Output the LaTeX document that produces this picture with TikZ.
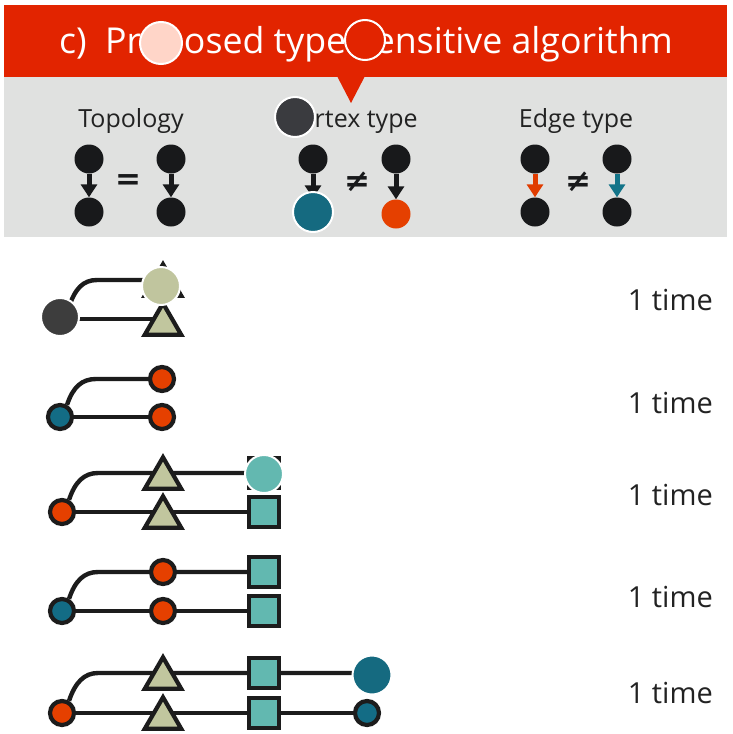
\documentclass[tikz,border=0pt]{standalone}
\usepackage{fontspec}
\setmainfont{Open Sans}
\newfontfamily\symfont{DejaVu Sans}
\usetikzlibrary{arrows.meta}
\pgfdeclarelayer{bgwhite}
\pgfdeclarelayer{bg}
\pgfsetlayers{bgwhite,bg,main}
\definecolor{barred}{HTML}{E22400}
\definecolor{panelgrey}{HTML}{E0E1E0}
\definecolor{nodeblk}{HTML}{18191B}
\definecolor{strokedk}{HTML}{1C1C1C}
\definecolor{orng}{HTML}{E54000}
\definecolor{tealdk}{HTML}{136C85}
\definecolor{tealsq}{HTML}{62B8B0}
\definecolor{beige}{HTML}{C1C69E}
\definecolor{txtdk}{HTML}{222222}
\definecolor{arrorng}{HTML}{E03C00}
\definecolor{arrteal}{HTML}{137489}
\definecolor{mpeach}{HTML}{FFD5C8}
\definecolor{mdark}{HTML}{3A3B3F}
\definecolor{mdarkb}{HTML}{3D3D3D}
\definecolor{mteal}{HTML}{156A80}
\definecolor{mbeige}{HTML}{C0C59E}
\definecolor{mtealsq}{HTML}{63B8B0}
\begin{document}
\begin{tikzpicture}[x=1pt,y=-1pt,
  blk/.style={circle,fill=nodeblk,inner sep=0pt,minimum size=29pt},
  parr/.style={line width=5pt,draw=#1,-{Triangle[width=16pt,length=13pt]}},
  parr/.default=nodeblk,
  rowedge/.style={line width=4.4pt,draw=strokedk},
  rc/.style={circle,draw=strokedk,line width=4.2pt,inner sep=0pt,minimum size=24pt,fill=#1},
  sqn/.style={rectangle,draw=strokedk,line width=4.2pt,fill=tealsq,inner sep=0pt,minimum size=30pt},
  trin/.style={rectangle,inner sep=0pt,minimum width=36pt,minimum height=31pt},
  trishape/.style={draw=strokedk,line width=4.2pt,fill=beige,line join=miter},
  maskc/.style={circle,draw=white,line width=2pt,inner sep=0pt,fill=#1},
  lbl/.style={text=txtdk,font=\fontsize{25}{30}\selectfont,anchor=base,inner sep=0pt},
  cnt/.style={text=txtdk,font=\fontsize{29}{34}\selectfont,anchor=base east,inner sep=0pt},
  symb/.style={text=nodeblk,font=\symfont\bfseries\fontsize{31}{34}\selectfont,inner sep=0pt}
]
\useasboundingbox (0,0) rectangle (732,734);
\begin{pgfonlayer}{bgwhite}
\fill[white] (0,0) rectangle (732,734);
\end{pgfonlayer}

% header bar and panel
\fill[barred] (4,5) rectangle (727,77);
\fill[panelgrey] (4,77) rectangle (727,237);
\fill[barred] (337,76) -- (365,76) -- (351,103) -- cycle;

\node[text=white,font=\fontsize{35.7}{42}\selectfont,anchor=base,inner sep=0pt] (title) at (366,53) {c)\ \ Proposed type-sensitive algorithm};

\node[lbl] (topo) at (131,127) {Topology};
\node[lbl] (vert) at (352,127) {Vertex type};
\node[lbl] (edge) at (576,127) {Edge type};

% topology
\node[blk] (t1a) at (89,159) {};
\node[blk] (t1b) at (89,212) {};
\node[blk] (t2a) at (171,159) {};
\node[blk] (t2b) at (171,212) {};
\draw[parr] (t1a) -- (t1b);
\draw[parr] (t2a) -- (t2b);
\node[symb] (eq1) at (128,182) {=};

% vertex type
\node[blk] (v1a) at (313,159) {};
\node[blk,fill=tealdk] (v1b) at (313,213) {};
\node[blk] (v2a) at (396,159) {};
\node[blk,fill=orng] (v2b) at (396,214) {};
\draw[parr] (v1a) -- (v1b);
\draw[parr] (v2a) -- (v2b);
\node[symb] (ne1) at (357,182) {≠};

% edge type
\node[blk] (e1a) at (535,159) {};
\node[blk] (e1b) at (535,212) {};
\node[blk] (e2a) at (617,159) {};
\node[blk] (e2b) at (617,212) {};
\draw[parr=arrorng] (e1a) -- (e1b);
\draw[parr=arrteal] (e2a) -- (e2b);
\node[symb] (ne2) at (578,182) {≠};

% row 1
\node[rc=orng] (L1) at (62,319) {};
\node[trin] (A1) at (163,280) {};
\node[trin] (A2) at (163,319) {};
\coordinate (K1) at (97,280);
% row 2
\node[rc=tealdk] (L2) at (60,417) {};
\node[rc=orng] (B1) at (162,379) {};
\node[rc=orng] (B2) at (162,417) {};
\coordinate (K2) at (96,379);
% row 3
\node[rc=orng] (L3) at (62,512) {};
\node[trin] (C1) at (163,473) {};
\node[trin] (C2) at (163,512) {};
\node[sqn] (D1) at (264,473) {};
\node[sqn] (D2) at (264,512) {};
\coordinate (K3) at (98,473);
% row 4
\node[rc=tealdk] (L4) at (62,611) {};
\node[rc=orng] (E1) at (163,572) {};
\node[rc=orng] (E2) at (163,611) {};
\node[sqn] (F1) at (264,572) {};
\node[sqn] (F2) at (264,611) {};
\coordinate (K4) at (98,572);
% row 5
\node[rc=orng] (L5) at (62,713) {};
\node[trin] (G1) at (163,673) {};
\node[trin] (G2) at (163,713) {};
\node[sqn] (H1) at (264,673) {};
\node[sqn] (H2) at (264,713) {};
\node[rc=tealdk] (J1) at (367,673) {};
\node[rc=tealdk] (J2) at (367,713) {};
\coordinate (K5) at (98,673);

\foreach \t in {A1,A2,C1,C2,G1,G2}
  \draw[trishape] (\t.north) -- (\t.south east) -- (\t.south west) -- cycle;

\begin{pgfonlayer}{bg}
\draw[rowedge] (L1.60) .. controls +(6,-18) and +(-14,0) .. (K1) -- (A1.center);
\draw[rowedge] (L1.center) -- (A2.center);
\draw[rowedge] (L2.60) .. controls +(6,-18) and +(-14,0) .. (K2) -- (B1.center);
\draw[rowedge] (L2.center) -- (B2.center);
\draw[rowedge] (L3.60) .. controls +(6,-18) and +(-14,0) .. (K3) -- (C1.center) -- (D1.center);
\draw[rowedge] (L3.center) -- (C2.center) -- (D2.center);
\draw[rowedge] (L4.60) .. controls +(6,-18) and +(-14,0) .. (K4) -- (E1.center) -- (F1.center);
\draw[rowedge] (L4.center) -- (E2.center) -- (F2.center);
\draw[rowedge] (L5.60) .. controls +(6,-18) and +(-14,0) .. (K5) -- (G1.center) -- (H1.center) -- (J1.center);
\draw[rowedge] (L5.center) -- (G2.center) -- (H2.center) -- (J2.center);
\end{pgfonlayer}

% counts
\node[cnt] (n1) at (713,310) {1 time};
\node[cnt] (n2) at (713,413) {1 time};
\node[cnt] (n3) at (713,505) {1 time};
\node[cnt] (n4) at (713,607) {1 time};
\node[cnt] (n5) at (713,703) {1 time};

% masking discs
\node[maskc=mpeach,minimum size=42pt] (m1) at (161,43) {};
\node[maskc=barred,minimum size=40pt] (m2) at (365,40) {};
\node[maskc=mdark,minimum size=40pt] (m3) at (295,117) {};
\node[maskc=mteal,minimum size=40pt] (m4) at (313,212) {};
\node[maskc=mbeige,minimum size=38pt] (m5) at (161,286) {};
\node[maskc=mdarkb,minimum size=38pt] (m6) at (60,317) {};
\node[maskc=mtealsq,minimum size=38pt] (m7) at (264,474) {};
\node[maskc=mteal,minimum size=39pt] (m8) at (372,675) {};
\end{tikzpicture}
\end{document}
